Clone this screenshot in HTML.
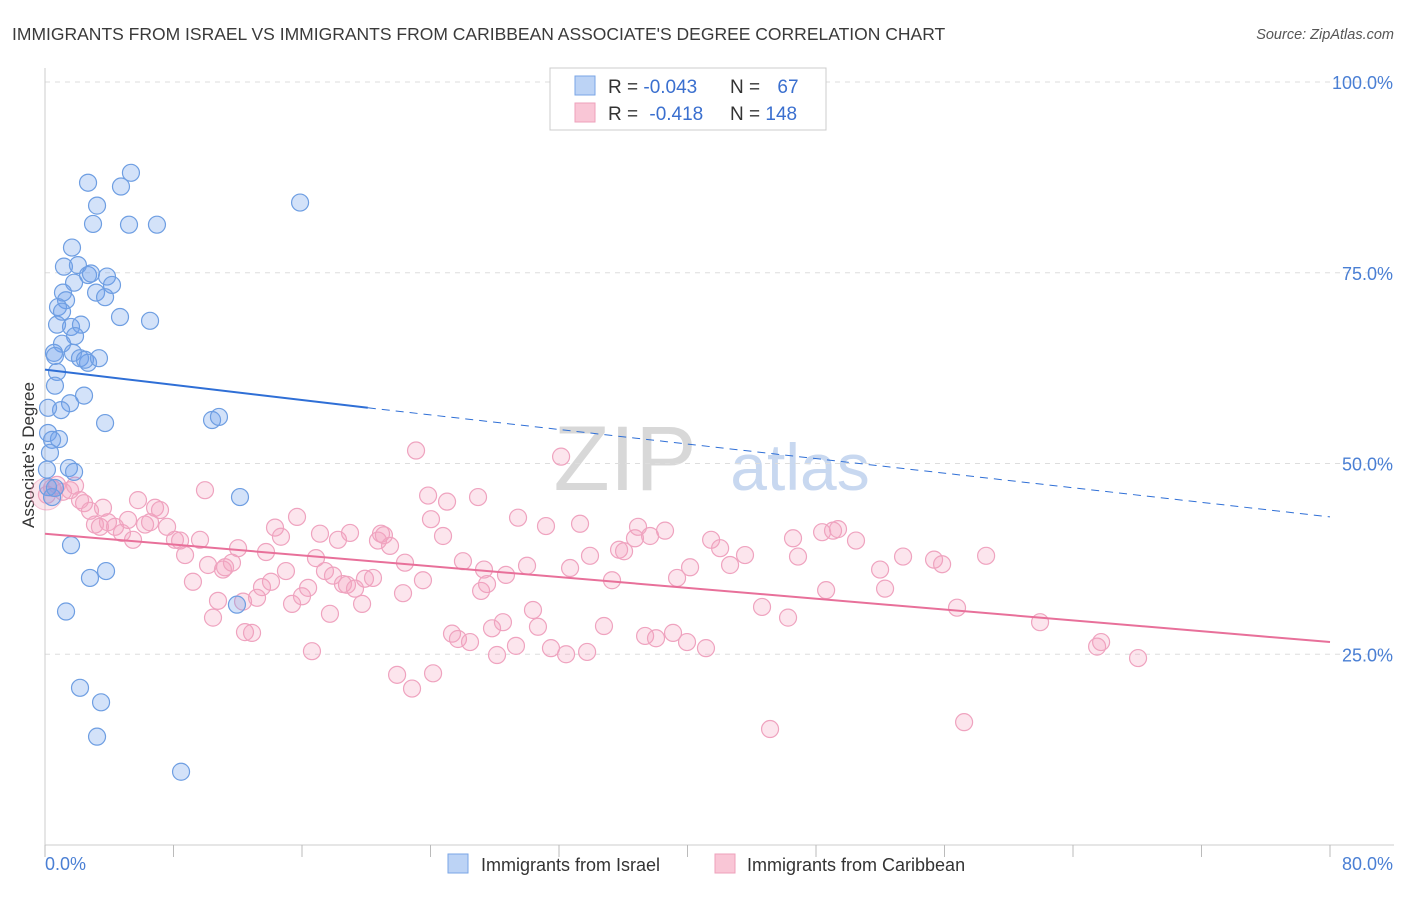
<!DOCTYPE html>
<html><head><meta charset="utf-8"><style>
body{margin:0;background:#fff;font-family:"Liberation Sans",sans-serif;}
svg text{font-family:"Liberation Sans",sans-serif;}
</style></head><body>
<svg id="chart" width="1406" height="892" xmlns="http://www.w3.org/2000/svg">
<text x="12" y="40" font-size="17.5" fill="#3a3a3a">IMMIGRANTS FROM ISRAEL VS IMMIGRANTS FROM CARIBBEAN ASSOCIATE'S DEGREE CORRELATION CHART</text>
<text x="1394" y="39" font-size="14.5" fill="#555" text-anchor="end" font-style="italic">Source: ZipAtlas.com</text>
<g>
<text x="625" y="490" font-size="92" font-family="Liberation Serif" fill="#d8d8d8" text-anchor="middle">ZIP</text>
<text x="800" y="490" font-size="66" fill="#c8d8f0" text-anchor="middle">atlas</text>
</g>
<g id="grid"></g>
<g id="axes"></g>
<text transform="translate(34,455) rotate(-90)" font-size="17" fill="#333" text-anchor="middle">Associate's Degree</text>
<g id="marks"></g>
<g id="lines"></g>
<g>
<rect x="550" y="68" width="276" height="62" fill="#fff" stroke="#ccc"/>
<rect x="575" y="76" width="20" height="19" fill="#bcd3f5" stroke="#7aa6e6"/>
<rect x="575" y="103" width="20" height="19" fill="#f9c6d6" stroke="#eea0bb"/>
<text x="608" y="93" font-size="19" fill="#333">R = <tspan fill="#3a6fcf">-0.043</tspan></text>
<text x="730" y="93" font-size="19" fill="#333">N = <tspan dx="12" fill="#3a6fcf">67</tspan></text>
<text x="608" y="120" font-size="19" fill="#333">R = <tspan dx="6" fill="#3a6fcf">-0.418</tspan></text>
<text x="730" y="120" font-size="19" fill="#333">N = <tspan fill="#3a6fcf">148</tspan></text>
</g>
<g>
<rect x="448" y="854" width="20" height="19" fill="#bcd3f5" stroke="#7aa6e6"/>
<text x="481" y="871" font-size="18" fill="#333">Immigrants from Israel</text>
<rect x="715" y="854" width="20" height="19" fill="#f9c6d6" stroke="#eea0bb"/>
<text x="747" y="871" font-size="18" fill="#333">Immigrants from Caribbean</text>
</g>
</svg>
<script>
const xTicks=[0,8,16,24,32,40,48,56,64,72,80];
const yTicks=[25,50,75,100];
const yTickLabels=["25.0%","50.0%","75.0%","100.0%"];
const xEndLabels=["0.0%","80.0%"];
const israelX=[2.68,4.73,5.35,3.24,2.99,5.23,6.97,15.88,1.68,1.18,2.05,2.68,2.86,3.86,1.81,4.17,3.18,3.74,1.12,1.31,0.81,1.06,4.67,6.54,0.75,1.62,2.24,1.87,1.06,0.56,1.74,0.62,2.18,2.68,2.49,3.36,0.75,0.62,1.56,2.43,1.0,0.19,3.74,10.4,10.83,0.19,0.87,0.44,0.31,1.49,1.81,0.19,0.44,12.14,1.62,3.8,2.8,1.31,11.95,2.18,3.49,3.24,8.47,0.12,0.62];
const israelY=[86.8,86.3,88.1,83.8,81.4,81.3,81.3,84.2,78.3,75.8,76.0,74.7,74.9,74.5,73.7,73.4,72.4,71.8,72.4,71.4,70.5,69.9,69.2,68.7,68.2,67.9,68.2,66.7,65.7,64.5,64.5,64.1,63.8,63.2,63.6,63.8,62.0,60.2,57.9,58.9,57.0,57.3,55.3,55.7,56.1,54.0,53.2,53.1,51.4,49.4,48.9,46.9,45.6,45.6,39.3,35.9,35.0,30.6,31.5,20.6,18.7,14.2,9.6,49.2,46.8];
const caribX=[0.12,0.44,0.75,1.12,1.56,1.87,2.18,2.43,2.8,3.61,3.11,3.42,3.92,4.36,4.79,5.17,5.48,5.79,6.23,6.54,6.85,7.16,7.6,8.09,8.41,8.72,9.21,9.65,9.96,10.15,10.46,10.77,11.08,11.21,11.64,12.02,12.33,12.45,12.89,13.2,13.51,13.76,14.07,14.32,14.69,15.0,15.38,15.69,16.0,16.38,16.62,16.87,17.12,17.43,17.74,17.93,18.24,18.55,18.8,18.99,19.3,19.74,19.92,20.42,20.73,20.92,21.1,21.48,21.92,22.29,22.41,22.85,23.1,23.53,23.85,24.03,24.16,24.78,25.03,25.34,25.71,26.02,26.46,26.96,27.15,27.33,27.52,27.83,28.14,28.51,28.7,29.32,29.45,30.01,30.38,30.69,31.19,31.5,32.13,32.44,32.69,33.31,33.75,33.93,34.8,35.3,35.74,36.05,36.73,36.92,37.36,37.67,38.04,38.6,39.1,39.35,40.16,39.97,41.15,41.47,42.03,42.65,43.58,44.64,45.14,46.26,46.57,46.88,48.38,48.63,49.06,49.37,50.49,51.99,52.3,53.42,55.35,55.85,56.78,57.22,58.59,61.95,65.5,65.75,68.05];
const caribY=[45.9,46.8,47.2,46.3,46.5,47.1,45.2,44.8,43.8,44.2,42.0,41.7,42.3,41.7,40.9,42.6,40.0,45.2,42.0,42.3,44.2,43.9,41.7,40.0,39.9,38.0,34.5,40.0,46.5,36.7,29.8,32.0,36.1,36.4,37.0,38.9,31.9,27.9,27.8,32.4,33.8,38.4,34.5,41.6,40.4,35.9,31.6,43.0,32.6,33.7,25.4,37.6,40.8,35.9,30.3,35.3,40.0,34.2,34.1,40.9,33.6,31.6,34.9,35.0,39.9,40.8,40.6,39.2,22.3,33.0,37.0,20.5,51.7,34.7,45.8,42.7,22.5,40.5,45.0,27.7,27.0,37.2,26.6,45.6,33.3,36.1,34.2,28.4,24.9,29.2,35.4,26.1,42.9,36.6,30.8,28.6,41.8,25.8,50.9,25.0,36.3,42.1,25.3,37.9,28.7,34.7,38.7,38.5,40.2,41.7,27.4,40.5,27.1,41.2,27.8,35.0,36.4,26.6,25.8,40.0,38.9,36.7,38.0,31.2,15.2,29.8,40.2,37.8,41.0,33.4,41.2,41.4,39.9,36.1,33.6,37.8,37.4,36.8,31.1,16.1,37.9,29.2,26.0,26.6,24.5];
const israelTrend=[62.3,57.3,43.0];
const israelTrendX=[0,20.1,80];
const caribTrend=[40.8,26.6];
const caribTrendX=[0,80];

const NS="http://www.w3.org/2000/svg";
const X0=45,X1=1330,Y0=845,Y100=82;
function sx(v){return X0+(v-0)/80*(X1-X0);}
function sy(v){return Y0-(v/100)*(Y0-Y100);}
function mk(tag,attrs,parent){const e=document.createElementNS(NS,tag);for(const k in attrs)e.setAttribute(k,attrs[k]);parent.appendChild(e);return e;}
const grid=document.getElementById('grid'),axes=document.getElementById('axes'),marks=document.getElementById('marks'),lines=document.getElementById('lines');
yTicks.forEach((t,i)=>{
  const l=mk('line',{x1:X0,x2:1394,y1:sy(t),y2:sy(t),stroke:'#ddd','stroke-dasharray':'5,5'},grid);
  
  
  const tx=mk('text',{x:1393,y:sy(t)+7,'font-size':18,fill:'#4a7fd4','text-anchor':'end'},axes);
  tx.textContent=yTickLabels[i];
  
  
});
mk('line',{x1:X0,x2:X0,y1:68,y2:Y0,stroke:'#ccc'},axes);
mk('line',{x1:X0,x2:1394,y1:Y0,y2:Y0,stroke:'#ccc'},axes);
xTicks.forEach(t=>{
  const l=mk('line',{x1:sx(t),x2:sx(t),y1:Y0,y2:Y0+12,stroke:'#bbb'},axes);
  
  
});
const xl0=mk('text',{x:45,y:870,'font-size':18,fill:'#4a7fd4'},axes);xl0.textContent=xEndLabels[0];


const xl1=mk('text',{x:1393,y:870,'font-size':18,fill:'#4a7fd4','text-anchor':'end'},axes);xl1.textContent=xEndLabels[1];


mk('circle',{cx:sx(0.1),cy:sy(46),r:16,fill:'rgba(240,150,180,0.25)',stroke:'rgba(235,140,175,0.5)'},marks);
caribX.forEach((v,i)=>{
  const c=mk('circle',{cx:sx(v),cy:sy(caribY[i]),r:8.5,fill:'rgba(245,160,190,0.28)',stroke:'#efa3bf','stroke-width':1.2},marks);
  
  
});
israelX.forEach((v,i)=>{
  const c=mk('circle',{cx:sx(v),cy:sy(israelY[i]),r:8.5,fill:'rgba(110,160,235,0.3)',stroke:'#6e9ee2','stroke-width':1.2},marks);
  
  
});
const bl=mk('line',{x1:sx(israelTrendX[0]),y1:sy(israelTrend[0]),x2:sx(israelTrendX[1]),y2:sy(israelTrend[1]),stroke:'#2f6fd6','stroke-width':2},lines);


const bd=mk('line',{x1:sx(israelTrendX[1]),y1:sy(israelTrend[1]),x2:sx(israelTrendX[2]),y2:sy(israelTrend[2]),stroke:'#2f6fd6','stroke-width':1,'stroke-dasharray':'8,6'},lines);


const pl=mk('line',{x1:sx(caribTrendX[0]),y1:sy(caribTrend[0]),x2:sx(caribTrendX[1]),y2:sy(caribTrend[1]),stroke:'#e8709a','stroke-width':2},lines);


</script>
</body></html>
